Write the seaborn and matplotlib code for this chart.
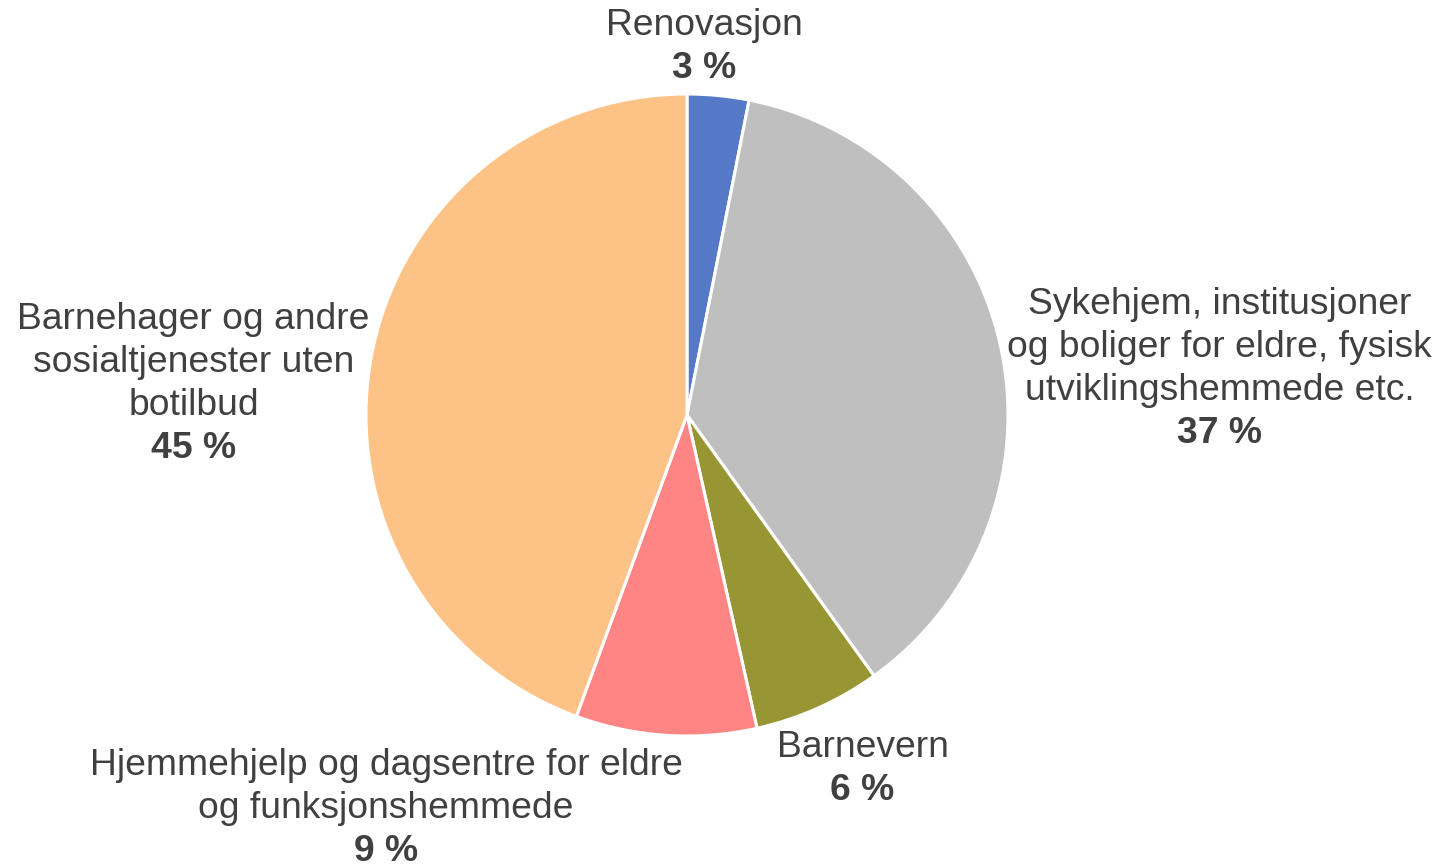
import numpy as np
import seaborn as sns
import matplotlib.pyplot as plt

categories = ['Renovasjon',
              'Sykehjem, institusjoner\nog boliger for eldre, fysisk\nutviklingshemmede etc.',
              'Barnevern',
              'Hjemmehjelp og dagsentre for eldre\nog funksjonshemmede',
              'Barnehager og andre\nsosialtjenester uten\nbotilbud']
shares = [3.1, 37.0, 6.4, 9.1, 44.4]
pct_labels = ['3 %', '37 %', '6 %', '9 %', '45 %']
colors = ['#5579C6', '#BFBFBF', '#989633', '#FF8585', '#FDC386']

# label anchor (center of first line), data units where pie radius = 1
label_pos = [(0.053, 1.213), (1.659, 0.344), (0.547, -1.037),
             (-0.9375, -1.093), (-1.5375, 0.297)]

sns.set_style('white')
plt.rcParams['font.family'] = ['Liberation Sans', 'DejaVu Sans']

fig = plt.figure(figsize=(14.43, 8.66), dpi=100)
ax = fig.add_axes([366 / 1443, 130 / 866, 642 / 1443, 642 / 866])
ax.pie(shares, colors=colors, startangle=90, counterclock=False,
       radius=1, wedgeprops=dict(edgecolor='white', linewidth=2.2))
ax.set_xlim(-1, 1)
ax.set_ylim(-1, 1)
ax.set_aspect('equal')
ax.axis('off')

txt_color = '#404040'
lh = 43 / 321
for name, pct, (x, y) in zip(categories, pct_labels, label_pos):
    lines = name.split('\n')
    for i, line in enumerate(lines):
        ax.text(x, y - i * lh, line, ha='center', va='center',
                fontsize=26.8, color=txt_color)
    ax.text(x, y - len(lines) * lh, pct, ha='center', va='center',
            fontsize=26.8, color=txt_color, fontweight='bold')

fig.savefig('out.png', dpi=100)
